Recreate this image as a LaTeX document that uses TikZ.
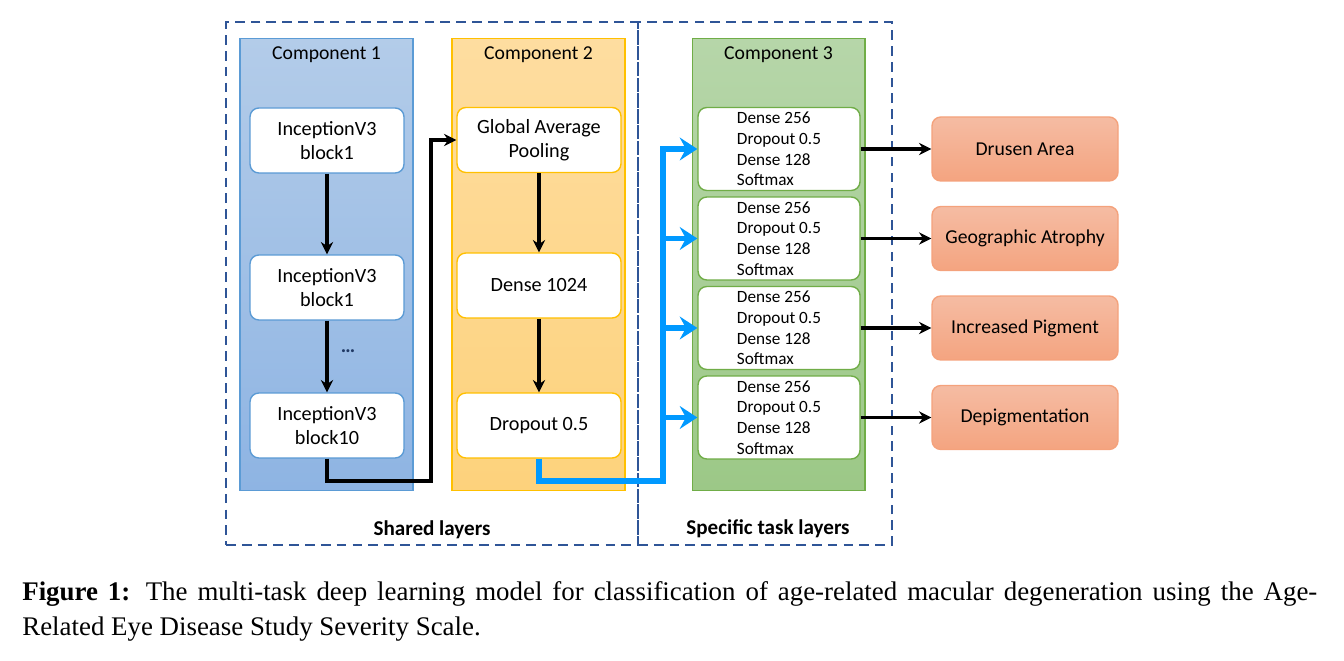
\documentclass[tikz,border=0pt]{standalone}
\usepackage{fontspec}
\setmainfont{Carlito}
\newfontfamily\capfont{Liberation Serif}
\usetikzlibrary{arrows.meta, positioning}

\definecolor{frameblue}{HTML}{2F5597}
\definecolor{c1top}{HTML}{B3CCE9}
\definecolor{c1bot}{HTML}{8EB4E3}
\definecolor{c1line}{HTML}{5B9BD5}
\definecolor{c2top}{HTML}{FEDDA0}
\definecolor{c2bot}{HTML}{FDD27C}
\definecolor{c2line}{HTML}{FFC000}
\definecolor{c3top}{HTML}{B6D6A9}
\definecolor{c3bot}{HTML}{9CC887}
\definecolor{c3line}{HTML}{70AD47}
\definecolor{outtop}{HTML}{F5BCA3}
\definecolor{outbot}{HTML}{F4A480}
\definecolor{outedge}{HTML}{F4A27C}
\definecolor{busblue}{HTML}{0099FF}
\definecolor{dotblue}{HTML}{1F3864}

\begin{document}
\begin{tikzpicture}[
  x=0.02cm, y=-0.02cm,
  %% ── node styles ────────────────────────────────────────────────────
  %% Dashed frames round the layer groups
  FRM/.style={rectangle, draw=frameblue, line width=1.3pt,
              dash pattern=on 5.5pt off 3.5pt, minimum height=10.46cm},
  %% Tall shaded component panels
  PAN/.style={rectangle, line width=0.6pt,
              minimum width=3.46cm, minimum height=9.06cm},
  TTL/.style={font=\fontsize{11.2}{13}\selectfont},
  %% White blocks inside components 1 and 2
  BLK/.style={rectangle, rounded corners=5pt, fill=white, line width=0.8pt,
              minimum height=1.30cm, align=center, inner sep=0pt,
              font=\fontsize{11.5}{13.6}\selectfont},
  %% Task heads inside component 3
  TSK/.style={rectangle, rounded corners=5pt, fill=white, draw=c3line,
              line width=0.8pt, minimum width=3.24cm, minimum height=1.66cm,
              align=left, inner sep=0pt, font=\fontsize{9.8}{11.7}\selectfont},
  %% Output labels
  OUT/.style={rectangle, rounded corners=5pt, draw=outedge, line width=0.8pt,
              top color=outtop, bottom color=outbot,
              minimum width=3.72cm, minimum height=1.28cm,
              font=\fontsize{11.2}{13}\selectfont},
  LAY/.style={font=\fontsize{12}{14}\selectfont\bfseries},
  %% Arrows
  arr/.style={-{Stealth[length=7pt,width=7pt]}, line width=2.1pt, black},
  blu/.style={-{Stealth[length=10pt,width=13pt,inset=3.5pt]},
              line width=3.2pt, busblue},
]
\useasboundingbox (0,0) rectangle (1344,661);

%% ════════════════════════════════════════════════════════════════════
%% FRAMES AND PANELS  (pixel grid, y grows downwards)
%% ════════════════════════════════════════════════════════════════════
\node[FRM, minimum width=8.24cm] (shared)   at (432,283.5) {};
\node[FRM, minimum width=5.08cm] (specific) at (765,283.5) {};

\node[PAN, draw=c1line, top color=c1top, bottom color=c1bot] (comp1) at (326.5,264.5) {};
\node[PAN, draw=c2line, top color=c2top, bottom color=c2bot] (comp2) at (538.5,264.5) {};
\node[PAN, draw=c3line, top color=c3top, bottom color=c3bot] (comp3) at (778.5,264.5) {};

\node[TTL] (title1) at (326.5,55) {Component 1};
\node[TTL] (title2) at (538.5,55) {Component 2};
\node[TTL] (title3) at (778.5,55) {Component 3};

%% Component 1 — InceptionV3 blocks
\node[BLK, draw=c1line, minimum width=3.08cm] (inc1)  at (327,140.5) {InceptionV3\\block1};
\node[BLK, draw=c1line, minimum width=3.08cm] (inc2)  at (327,287.5) {InceptionV3\\block1};
\node[BLK, draw=c1line, minimum width=3.08cm] (inc10) at (327,425.5) {InceptionV3\\block10};
\node[text=dotblue, font=\fontsize{11.5}{13}\selectfont\bfseries] (dots) at (348,351) {\dots};

\draw[arr] (inc1) -- (inc2);
\draw[arr] (inc2) -- (inc10);

%% Component 2 — pooling head
\node[BLK, draw=c2line, minimum width=3.28cm] (gap)   at (539,140)   {Global Average\\Pooling};
\node[BLK, draw=c2line, minimum width=3.28cm] (d1024) at (539,285.5) {Dense 1024};
\node[BLK, draw=c2line, minimum width=3.28cm] (drop)  at (539,425.5) {Dropout 0.5};

\draw[arr] (gap) -- (d1024);
\draw[arr] (d1024) -- (drop);

%% Component 1 -> Component 2
\coordinate (elbow) at (431,481);
\draw[arr] (inc10.south) |- (elbow) |- (gap.west);

%% Component 3 — four task heads
\foreach \n/\y in {task1/149, task2/238.5, task3/328, task4/417.5}
  \node[TSK] (\n) at (779,\y) {Dense 256\\Dropout 0.5\\Dense 128\\Softmax};

%% Blue bus from Dropout into every head
\coordinate (bus) at (663,481);
\draw[blu] (drop.south) |- (bus) |- (task1.west);
\foreach \t in {task2, task3, task4}
  \draw[blu] (bus |- \t.west) -- (\t.west);

%% ════════════════════════════════════════════════════════════════════
%% OUTPUTS
%% ════════════════════════════════════════════════════════════════════
\node[OUT] (drusen) at (1025,149)   {Drusen Area};
\node[OUT] (geo)    at (1025,238.5) {Geographic Atrophy};
\node[OUT] (pig)    at (1025,328)   {Increased Pigment};
\node[OUT] (depig)  at (1025,417.5) {Depigmentation};

\foreach \a/\b in {task1/drusen, task2/geo, task3/pig, task4/depig}
  \draw[arr] (\a) -- (\b);

%% Layer labels
\node[LAY] (sharedlbl)   at (432,530) {Shared layers};
\node[LAY] (specificlbl) at (768,529) {Specific task layers};

%% Caption
\node[anchor=north west, inner sep=0pt, text width=737pt, align=justify,
      font=\capfont\fontsize{15.3}{19.8}\selectfont] (caption) at (22,581)
  {\textbf{Figure 1:} The multi-task deep learning model for classification of
   age-related macular degeneration using the Age-\linebreak Related Eye Disease
   Study Severity Scale.};

\end{tikzpicture}
\end{document}
